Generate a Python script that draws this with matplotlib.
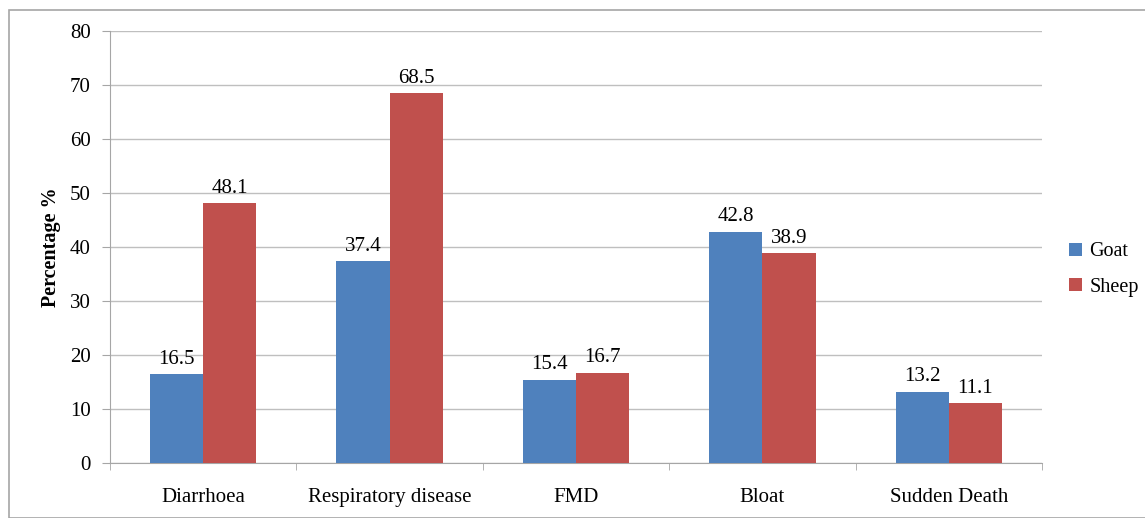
import matplotlib.pyplot as plt
import numpy as np
from matplotlib.patches import Rectangle

categories = ['Diarrhoea', 'Respiratory disease', 'FMD', 'Bloat', 'Sudden Death']
goat = [16.5, 37.4, 15.4, 42.8, 13.2]
sheep = [48.1, 68.5, 16.7, 38.9, 11.1]

plt.rcParams['font.family'] = ['Liberation Serif', 'DejaVu Serif']

fig = plt.figure(figsize=(11.45, 5.18), dpi=100)
ax = fig.add_axes([110 / 1145, 1 - 463 / 518, 932 / 1145, 432 / 518])

# outer frame like the excel chart border
fig.patches.append(Rectangle((9 / 1145, 0), 1.0, 1 - 10 / 518, transform=fig.transFigure,
                             fill=False, edgecolor='#A6A6A6', linewidth=1.2))

x = np.arange(len(categories))
w = 0.285
b1 = ax.bar(x - w / 2, goat, w, color='#4F81BD', label='Goat', zorder=3)
b2 = ax.bar(x + w / 2, sheep, w, color='#C0504D', label='Sheep', zorder=3)

for bars in (b1, b2):
    for r in bars:
        ax.text(r.get_x() + r.get_width() / 2, r.get_height() + 1.0, f'{r.get_height():.1f}',
                ha='center', va='bottom', fontsize=15)

ax.set_xlim(-0.5, len(categories) - 0.5)
ax.set_ylim(0, 80)
ax.set_yticks(range(0, 81, 10))
ax.yaxis.grid(True, color='#BFBFBF', linewidth=1, zorder=0)
ax.set_axisbelow(True)

ax.set_xticks(x)
ax.set_xticklabels(categories, fontsize=15)
ax.set_xticks(np.arange(-0.5, len(categories), 1), minor=True)
ax.tick_params(axis='x', which='major', length=0, pad=18)
ax.tick_params(axis='x', which='minor', length=5, color='#A6A6A6', direction='out')
ax.tick_params(axis='y', labelsize=15, length=6, color='#A6A6A6', pad=8)

for s in ['top', 'right']:
    ax.spines[s].set_visible(False)
for s in ['left', 'bottom']:
    ax.spines[s].set_color('#A6A6A6')

ax.set_ylabel('Percentage %', fontsize=14.5, fontweight='bold', labelpad=6)

ax.legend(loc='center left', bbox_to_anchor=(1.01, 0.448), frameon=False, fontsize=14.5,
          handlelength=0.6, handleheight=0.6, handletextpad=0.4, labelspacing=0.8)

fig.savefig('out.png', dpi=100)
